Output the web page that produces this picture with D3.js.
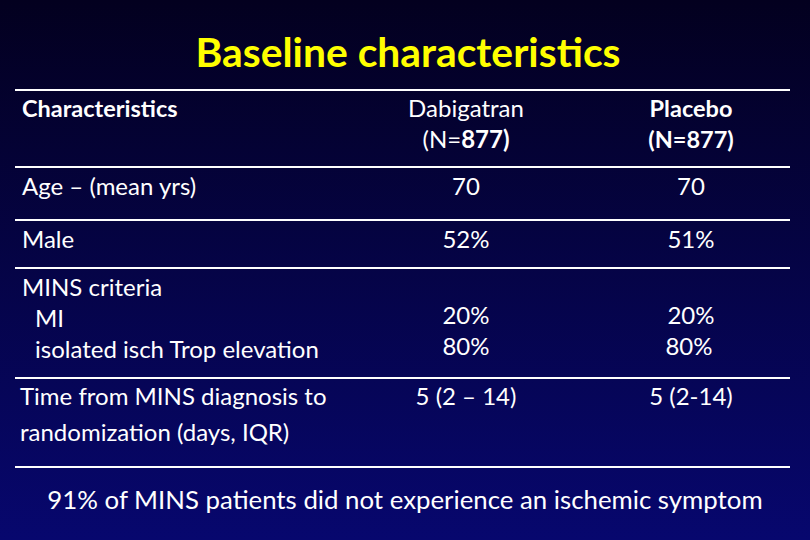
<!DOCTYPE html>
<html><head><meta charset="utf-8">
<script src="https://cdn.jsdelivr.net/npm/d3@7"></script>
<style>html,body{margin:0;padding:0;background:#000;}svg{display:block;}</style>
</head><body>
<svg id="c" width="810" height="540"></svg>
<script>
const title = "Baseline characteristics";
const headers = ["Characteristics", "Dabigatran", "Placebo"];
const groupSizes = ["877", "877"];
const rowLabels = [
  ["Age \u2013 (mean yrs)"],
  ["Male"],
  ["MINS criteria", "  MI", "  isolated isch Trop elevation"],
  ["Time from MINS diagnosis to", "randomization (days, IQR)"]
];
const dabigatran = [["70"], ["52%"], ["", "20%", "80%"], ["5 (2 \u2013 14)"]];
const placebo = [["70"], ["51%"], ["", "20%", "80%"], ["5 (2-14)"]];
const footnote = "91% of MINS patients did not experience an ischemic symptom";

const W = 810, H = 540;
const svg = d3.select("#c");
const defs = svg.append("defs");
const g = defs.append("linearGradient").attr("id","bg").attr("x1",0).attr("y1",0).attr("x2",0).attr("y2",1);
g.append("stop").attr("offset","0%").attr("stop-color","#03001f");
g.append("stop").attr("offset","100%").attr("stop-color","#07076e");
svg.append("rect").attr("width",W).attr("height",H).attr("fill","url(#bg)");

const FONT = "Lato, 'Open Sans', sans-serif";

svg.append("text").attr("x",408).attr("y",67).attr("text-anchor","middle")
  .attr("font-family",FONT).attr("font-weight","bold").attr("font-size",40.8)
  .attr("fill","#ffff00").text(title);

// horizontal rules
const rules = [90, 167, 220, 268, 378, 467];
svg.selectAll("line.rule").data(rules).join("line").attr("class","rule")
  .attr("x1",15).attr("x2",790).attr("y1",d=>d).attr("y2",d=>d)
  .attr("stroke","#ffffff").attr("stroke-width",2.2);

const colX = d3.scaleOrdinal().domain(["label","dab","pla"]).range([22,466,691]);
const fs = 24;
const txt = (x,y,s,opts={}) => svg.append("text").attr("x",x).attr("y",y)
  .attr("font-family",FONT).attr("font-size",opts.size||fs).attr("fill","#fff")
  .attr("font-weight",opts.bold?"bold":"normal")
  .attr("text-anchor",opts.anchor||"start").attr("xml:space","preserve").text(s);

// header
txt(colX("label"),117,headers[0],{bold:true,size:23.5});
txt(colX("dab"),117,headers[1],{anchor:"middle"});
const n1 = svg.append("text").attr("x",colX("dab")).attr("y",148).attr("text-anchor","middle")
  .attr("font-family",FONT).attr("font-size",fs).attr("fill","#fff");
n1.append("tspan").text("(N=");
n1.append("tspan").attr("font-weight","bold").text(groupSizes[0]+")");
txt(colX("pla"),117,headers[2],{anchor:"middle",bold:true,size:23.5});
txt(colX("pla"),148,"(N="+groupSizes[1]+")",{anchor:"middle",bold:true,size:23.5});

// rows
const rowLabelY = [[195],[248],[296,327,358],[405,441]];
const rowValY = [[195],[248],[0,324,355],[405]];
rowLabels.forEach((lines,i)=>{
  lines.forEach((s,j)=>{
    const indent = s.startsWith("  ");
    txt(indent?35:(i===3?20:22), rowLabelY[i][j], s.trim());
  });
  dabigatran[i].forEach((v,j)=>{ if(v) txt(colX("dab"), rowValY[i][j], v, {anchor:"middle"}); });
  placebo[i].forEach((v,j)=>{ if(v) txt(colX("pla")-(i===2&&j===2?2:0), rowValY[i][j], v, {anchor:"middle"}); });
});

txt(405,509,footnote,{anchor:"middle",size:25.8});
</script>
</body></html>
